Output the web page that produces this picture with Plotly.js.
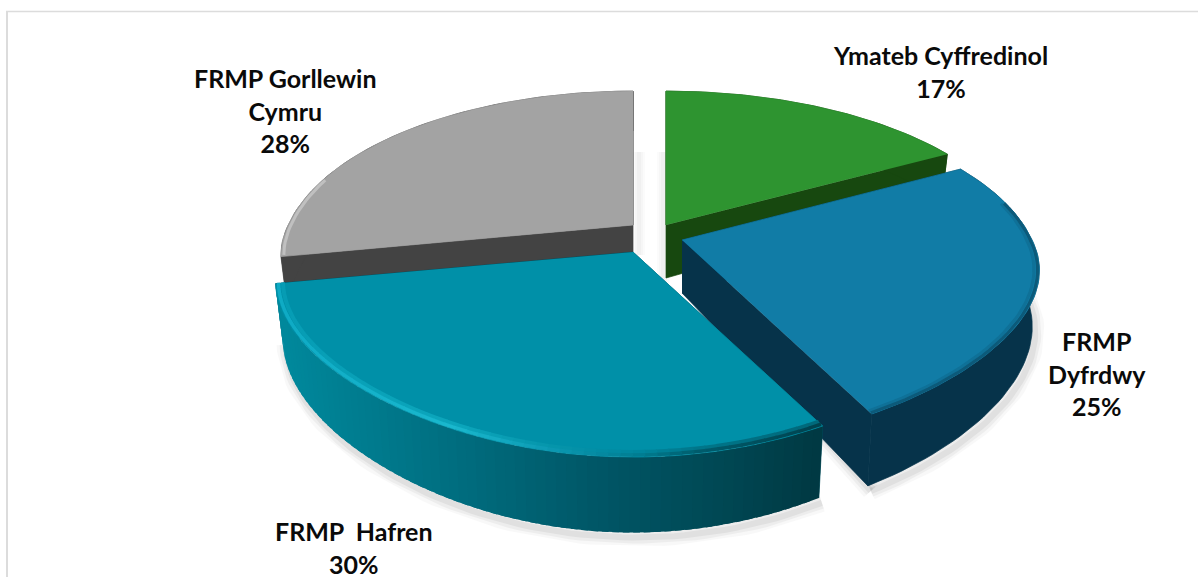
<!DOCTYPE html>
<html><head><meta charset="utf-8">
<script src="https://cdn.plot.ly/plotly-3.0.1.min.js"></script>
<style>html,body{margin:0;padding:0;background:#fff;overflow:hidden}#chart{width:1198px;height:577px}</style>
</head><body><div id="chart"></div>
<script>
// ---- data ----
const categories = ['Ymateb Cyffredinol', 'FRMP Dyfrdwy', 'FRMP Hafren', 'FRMP Gorllewin Cymru'];
const shares = [17, 25, 30, 28];
const labelLines = [
  ['Ymateb Cyffredinol'],
  ['FRMP', 'Dyfrdwy'],
  ['FRMP\u00a0\u00a0Hafren'],
  ['FRMP Gorllewin', 'Cymru']
];
const topColors = ['#2e9430', '#117ca6', '#0090a8', '#a3a3a3'];
const wallColors = ['#17480f', '#06334a', '#004e5c', '#434343'];

// ---- view of the exploded disc (perspective) ----
const apexes = [[666, 225], [682, 240], [633, 252], [633, 225]];
const widthScale = [1.01, 1, 1, 0.985];
const labelSpots = [[940, 71], [1097, 373], [354, 547.5], [285, 110]];
const RX = 350, RY = 162, PERSP = 0.21, DEPTH = 53, SHRINK = 0.98;

function project(i, deg, r, drop) {
  const t = deg * Math.PI / 180, u = r * Math.sin(t), v = r * Math.cos(t);
  const f = 1 / (1 + PERSP * v);
  const fx = v >= 0 ? f : 1 + 0.23 * (-v) - 0.1 * v * v;
  const shrink = drop ? SHRINK : 1;
  return [apexes[i][0] + RX * widthScale[i] * u * fx * shrink,
          apexes[i][1] - RY * v * f + (drop ? DEPTH * Math.pow(f, 1.5) : 0)];
}
const traces = [];
function addPoly(pts, color, lw) {
  traces.push({type: 'scatter', mode: 'lines', x: pts.map(p => p[0]), y: pts.map(p => p[1]),
    fill: 'toself', fillcolor: color, line: {color: color, width: lw === undefined ? 0.7 : lw}, hoverinfo: 'skip', showlegend: false});
}
function addPath(pts, color, width, opacity) {
  traces.push({type: 'scatter', mode: 'lines', x: pts.map(p => p[0]), y: pts.map(p => p[1]),
    line: {color: color, width: width}, opacity: opacity === undefined ? 1 : opacity,
    hoverinfo: 'skip', showlegend: false});
}
function arcPts(i, a, b, r, drop, n) {
  const out = [];
  for (let k = 0; k <= n; k++) out.push(project(i, a + (b - a) * k / n, r, drop));
  return out;
}
function mixStops(stops, x) {
  let c = stops[stops.length - 1][1];
  if (x <= stops[0][0]) c = stops[0][1];
  else for (let k = 1; k < stops.length; k++) {
    if (x <= stops[k][0]) {
      const s = (x - stops[k-1][0]) / (stops[k][0] - stops[k-1][0]);
      c = stops[k-1][1].map((v, j) => Math.round(v + (stops[k][1][j] - v) * s));
      break;
    }
  }
  return 'rgb(' + c.join(',') + ')';
}

const total = shares.reduce((a, b) => a + b, 0);
let cum = 0;
const spans = shares.map(s => { const a = cum; cum += s; return [a / total * 360, cum / total * 360]; });

const wallStops = [[270, [0,138,158]], [450, [0,110,128]], [600, [0,86,102]], [720, [0,72,84]], [822, [0,56,66]]];
const rimStops  = [[270, [14,170,196]], [450, [26,184,206]], [560, [10,150,175]], [640, [0,125,145]], [700, [0,92,108]], [822, [0,66,78]]];
const rimSoftStops = [[270, [6,156,180]], [450, [12,166,188]], [560, [5,148,170]], [640, [0,135,158]], [700, [0,118,138]], [822, [0,104,122]]];

// soft ground shadows
for (const [w, o] of [[18, 0.025], [12, 0.04], [6, 0.05]]) {
  const shifted = (pts) => pts.map(p => [p[0] + 3, p[1] + 5]);
  addPath(shifted(arcPts(2, spans[2][0], spans[2][1], 1, true, 70)), '#000', w, o);
  addPath(shifted(arcPts(1, spans[1][0] + 15, spans[1][1], 1, true, 50)), '#000', w, o);
  const p0 = project(1, spans[1][1], 0.6, true), p1 = project(1, spans[1][1], 1, true);
  addPath(shifted([p0, p1]), '#000', w, o);
}
// pale shadow in the gap between the slices
for (const [w, o] of [[12, 0.012], [8, 0.016], [4, 0.02]]) {
  addPath([[apexes[0][0] - 3, 152], [apexes[0][0] - 3, 285]], '#000', w, o);
  addPath([[apexes[3][0] + 6, 152], [apexes[3][0] + 6, 255]], '#000', w, o);
}

// painter's order: back slices first
[3, 0, 1, 2].forEach(i => {
  const [a, b] = spans[i];
  // radial walls
  [a, b].forEach(d => {
    addPoly([project(i, d, 0, false), project(i, d, 1, false), project(i, d, 1, true), project(i, d, 0, true)], wallColors[i]);
  });
  // outer wall
  if (i === 2) {
    const n = 70;
    for (let k = 0; k < n; k++) {
      const d0 = a + (b - a) * k / n, d1 = Math.min(b, a + (b - a) * (k + 1) / n + 1);
      const p = project(i, a + (b - a) * (k + 0.5) / n, 1, false);
      addPoly([project(i, d0, 1, false), project(i, d1, 1, false), project(i, d1, 1, true), project(i, d0, 1, true)], mixStops(wallStops, p[0]), 0);
    }
  } else {
    const upper = arcPts(i, a, b, 1, false, 60), lower = arcPts(i, a, b, 1, true, 60).reverse();
    addPoly(upper.concat(lower), wallColors[i]);
  }
  // top face
  addPoly([project(i, a, 0, false)].concat(arcPts(i, a, b, 1, false, 80)), topColors[i]);
});

// bevels on the rims
{
  const [a, b] = spans[2], n = 60;
  for (let k = 0; k < n; k++) {
    const d0 = a + (b - a) * k / n, d1 = a + (b - a) * (k + 1) / n + 0.2;
    const x = project(2, (d0 + d1) / 2, 1, false)[0];
    addPath(arcPts(2, d0, d1, 0.98, false, 2), mixStops(rimSoftStops, x), 4);
  }
  for (let k = 0; k < n; k++) {
    const d0 = a + (b - a) * k / n, d1 = a + (b - a) * (k + 1) / n + 0.2;
    const x = project(2, (d0 + d1) / 2, 1, false)[0];
    addPath(arcPts(2, d0, d1, 0.992, false, 2), mixStops(rimStops, x), 3.5);
  }
}
{
  const [a, b] = spans[1];
  addPath(arcPts(1, a + 15, b, 0.985, false, 50), '#0f7198', 3);
  addPath(arcPts(1, a + 15, b, 0.995, false, 50), '#0c5a7a', 3);
  const [c] = spans[3];
  addPath(arcPts(3, c + 0.5, c + 28, 0.992, false, 20), '#c0c0c0', 3);
}

const annotations = categories.map((c, i) => ({
  x: labelSpots[i][0], y: labelSpots[i][1], xref: 'x', yref: 'y', showarrow: false,
  xanchor: 'center', yanchor: 'middle', align: 'center',
  text: labelLines[i].concat([shares[i] + '%']).map(s => '<b>' + s + '</b>').join('<br>'),
  font: {family: 'Lato, "Open Sans", sans-serif', size: 25, color: '#0a0a0a'}
}));

const layout = {
  width: 1198, height: 577, margin: {l: 0, r: 0, t: 0, b: 0},
  paper_bgcolor: '#fff', plot_bgcolor: '#fff', showlegend: false, hovermode: false,
  xaxis: {range: [0, 1198], visible: false, fixedrange: true},
  yaxis: {range: [577, 0], visible: false, fixedrange: true},
  annotations: annotations,
  shapes: [
    {type: 'line', xref: 'x', yref: 'y', x0: 6, x1: 1198, y0: 11.5, y1: 11.5, line: {color: '#dcdcdc', width: 1.5}},
    {type: 'line', xref: 'x', yref: 'y', x0: 7, x1: 7, y0: 11, y1: 577, line: {color: '#dcdcdc', width: 2}}
  ]
};
Plotly.newPlot('chart', traces, layout, {displayModeBar: false});
</script></body></html>
